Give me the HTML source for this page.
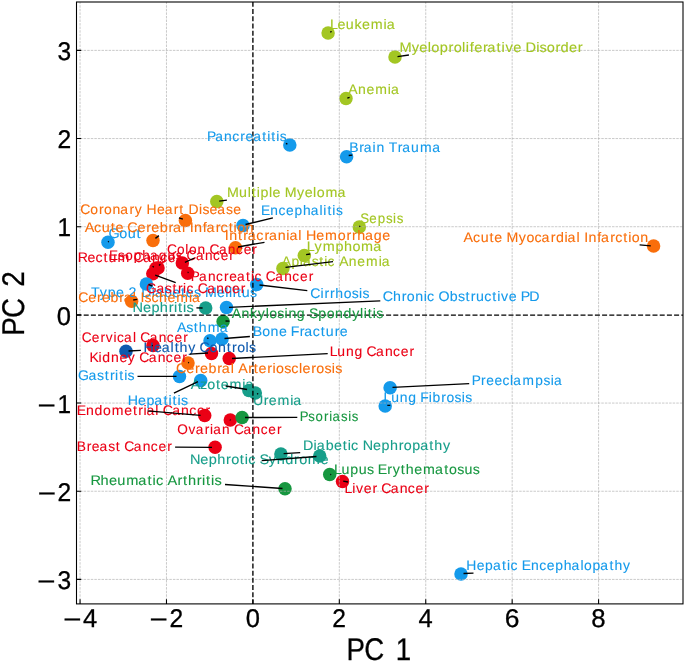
<!DOCTYPE html>
<html><head><meta charset="utf-8"><title>PCA scatter</title>
<style>
html,body{margin:0;padding:0;background:#fff;}
svg{display:block;will-change:transform;filter:blur(0.3px);}
text{font-family:"Liberation Sans",sans-serif;font-kerning:none;text-rendering:geometricPrecision;}
</style></head><body>
<svg width="685" height="662" viewBox="0 0 685 662">
<rect width="685" height="662" fill="#fff"/>

<g stroke="none">
<circle cx="328.1" cy="32.9" r="6.75" fill="#A3C623"/>
<circle cx="395.0" cy="57.0" r="6.75" fill="#A3C623"/>
<circle cx="346.0" cy="98.5" r="6.75" fill="#A3C623"/>
<circle cx="216.8" cy="201.5" r="6.75" fill="#A3C623"/>
<circle cx="359.3" cy="226.9" r="6.75" fill="#A3C623"/>
<circle cx="304.3" cy="255.5" r="6.75" fill="#A3C623"/>
<circle cx="282.9" cy="268.4" r="6.75" fill="#A3C623"/>
<circle cx="185.4" cy="220.4" r="6.75" fill="#F96E0B"/>
<circle cx="153.0" cy="240.4" r="6.75" fill="#F96E0B"/>
<circle cx="235.5" cy="247.8" r="6.75" fill="#F96E0B"/>
<circle cx="653.6" cy="246.0" r="6.75" fill="#F96E0B"/>
<circle cx="131.6" cy="301.3" r="6.75" fill="#F96E0B"/>
<circle cx="188.0" cy="362.9" r="6.75" fill="#F96E0B"/>
<circle cx="182.3" cy="263.0" r="6.75" fill="#EB0015"/>
<circle cx="158.0" cy="268.0" r="6.75" fill="#EB0015"/>
<circle cx="156.0" cy="268.3" r="6.75" fill="#EB0015"/>
<circle cx="187.7" cy="273.2" r="6.75" fill="#EB0015"/>
<circle cx="152.8" cy="273.8" r="6.75" fill="#EB0015"/>
<circle cx="153.0" cy="345.6" r="6.75" fill="#EB0015"/>
<circle cx="229.2" cy="358.6" r="6.75" fill="#EB0015"/>
<circle cx="204.7" cy="415.6" r="6.75" fill="#EB0015"/>
<circle cx="230.3" cy="420.1" r="6.75" fill="#EB0015"/>
<circle cx="215.1" cy="447.3" r="6.75" fill="#EB0015"/>
<circle cx="342.5" cy="481.6" r="6.75" fill="#EB0015"/>
<circle cx="289.8" cy="145.0" r="6.75" fill="#149AEB"/>
<circle cx="346.6" cy="156.7" r="6.75" fill="#149AEB"/>
<circle cx="243.0" cy="225.4" r="6.75" fill="#149AEB"/>
<circle cx="108.0" cy="242.2" r="6.75" fill="#149AEB"/>
<circle cx="146.4" cy="284.1" r="6.75" fill="#149AEB"/>
<circle cx="256.7" cy="284.6" r="6.75" fill="#149AEB"/>
<circle cx="226.5" cy="307.4" r="6.75" fill="#149AEB"/>
<circle cx="210.0" cy="340.8" r="6.75" fill="#149AEB"/>
<circle cx="222.0" cy="339.0" r="6.75" fill="#149AEB"/>
<circle cx="179.5" cy="376.4" r="6.75" fill="#149AEB"/>
<circle cx="200.7" cy="380.4" r="6.75" fill="#149AEB"/>
<circle cx="390.1" cy="387.7" r="6.75" fill="#149AEB"/>
<circle cx="385.2" cy="406.1" r="6.75" fill="#149AEB"/>
<circle cx="461.0" cy="573.9" r="6.75" fill="#149AEB"/>
<circle cx="211.5" cy="353.4" r="6.75" fill="#EB0015"/>
<circle cx="126.0" cy="351.2" r="6.75" fill="#0E5AAE"/>
<circle cx="205.7" cy="307.9" r="6.75" fill="#179E8A"/>
<circle cx="248.9" cy="390.4" r="6.75" fill="#179E8A"/>
<circle cx="255.3" cy="393.0" r="6.75" fill="#179E8A"/>
<circle cx="280.9" cy="454.0" r="6.75" fill="#179E8A"/>
<circle cx="319.7" cy="456.0" r="6.75" fill="#179E8A"/>
<circle cx="223.1" cy="321.6" r="6.75" fill="#179740"/>
<circle cx="242.1" cy="417.5" r="6.75" fill="#179740"/>
<circle cx="329.7" cy="474.6" r="6.75" fill="#179740"/>
<circle cx="285.0" cy="488.8" r="6.75" fill="#179740"/>
</g>
<path d="M80.06 603.90V2.00M166.48 603.90V2.00M339.32 603.90V2.00M425.74 603.90V2.00M512.16 603.90V2.00M598.58 603.90V2.00M76.50 579.41H683.00M76.50 491.24H683.00M76.50 403.07H683.00M76.50 226.73H683.00M76.50 138.56H683.00M76.50 50.39H683.00" stroke="#b0b0b0" stroke-width="0.67" stroke-dasharray="2.49 1.08" fill="none"/>
<path d="M252.90 603.9V2.0" stroke="#000" stroke-width="1.35" stroke-dasharray="5 2.2" stroke-dashoffset="0.53" fill="none"/>
<path d="M76.5 315.1H683.0" stroke="#000" stroke-width="1.35" stroke-dasharray="5 2.2" fill="none"/>
<g font-size="13.9" stroke-width="0.1">
<text transform="scale(1.0278,1)" x="320.96 328.38 336.50 344.95 352.31 360.79 373.20 376.20" y="28.8" fill="#A3C623" stroke="#A3C623">Leukemia</text>
<text transform="scale(1.0507,1)" x="380.16 391.78 399.14 407.15 410.53 418.58 426.98 431.75 439.76 443.32 447.12 451.25 459.58 463.85 472.67 477.39 481.02 488.38 496.16 500.15 510.33 513.59 520.36 528.69 533.53 541.63 549.96" y="51.9" fill="#A3C623" stroke="#A3C623">Myeloproliferative Disorder</text>
<text transform="scale(1.0094,1)" x="345.13 354.71 363.03 371.71 384.26 387.37" y="94.2" fill="#A3C623" stroke="#A3C623">Anemia</text>
<text transform="scale(0.9984,1)" x="207.29 215.52 224.45 232.62 240.68 245.80 253.55 262.72 267.66 271.74 276.68 280.22" y="140.8" fill="#149AEB" stroke="#149AEB">Pancreatitis</text>
<text transform="scale(1.0056,1)" x="347.24 357.18 361.71 370.50 374.30 382.37 386.47 395.49 400.02 408.83 417.73 429.73" y="152.0" fill="#149AEB" stroke="#149AEB">Brain Trauma</text>
<text transform="scale(1.0247,1)" x="221.63 233.35 241.68 245.66 250.48 254.22 262.45 266.02 273.90 277.95 289.80 297.36 305.52 309.04 317.56 329.36" y="197.1" fill="#A3C623" stroke="#A3C623">Multiple Myeloma</text>
<text transform="scale(0.9901,1)" x="263.51 272.94 281.19 288.89 297.45 305.98 313.94 322.81 326.59 330.71 335.69 339.28" y="214.6" fill="#149AEB" stroke="#149AEB">Encephalitis</text>
<text transform="scale(1.0040,1)" x="79.88 89.89 98.55 103.59 111.96 119.78 128.96 134.25 141.69 145.96 156.30 164.00 173.18 178.64 183.23 187.66 198.13 201.64 208.79 216.49 225.07 232.22" y="213.5" fill="#F96E0B" stroke="#F96E0B">Coronary Heart Disease</text>
<text transform="scale(1.0388,1)" x="104.40 114.92 122.96 131.52" y="237.6" fill="#149AEB" stroke="#149AEB">Gout</text>
<text transform="scale(1.0370,1)" x="81.69 90.70 98.11 106.69 111.35 119.18 122.73 132.51 140.93 145.82 153.98 162.48 166.83 175.42 178.76 182.87 186.99 195.45 199.11 208.04 212.71 220.49 225.26 228.70 236.81" y="231.6" fill="#F96E0B" stroke="#F96E0B">Acute Cerebral Infarction</text>
<text transform="scale(1.0266,1)" x="219.03 223.21 231.80 236.96 241.37 249.72 257.58 261.99 270.68 278.95 281.96 290.61 293.98 298.05 308.18 316.68 328.96 337.46 342.85 347.90 355.56 364.15 372.44" y="239.8" fill="#F96E0B" stroke="#F96E0B">Intracranial Hemorrhage</text>
<text transform="scale(0.9599,1)" x="375.32 384.80 393.62 402.11 409.55 413.30" y="222.6" fill="#A3C623" stroke="#A3C623">Sepsis</text>
<text transform="scale(1.0364,1)" x="295.89 303.47 311.35 323.76 331.92 340.00 348.39 360.09" y="250.8" fill="#A3C623" stroke="#A3C623">Lymphoma</text>
<text transform="scale(0.9993,1)" x="281.97 291.71 300.08 303.25 311.87 319.43 324.37 327.84 335.17 339.42 349.09 357.49 366.27 378.91 382.08" y="266.0" fill="#A3C623" stroke="#A3C623">Aplastic Anemia</text>
<text transform="scale(0.9867,1)" x="169.28 179.44 187.82 191.57 200.08 208.24 212.23 221.89 230.93 239.19 246.93 255.72" y="253.5" fill="#EB0015" stroke="#EB0015">Colon Cancer</text>
<text transform="scale(0.9765,1)" x="111.69 120.92 128.24 136.92 145.57 153.64 162.65 171.44 179.91 186.88 190.97 200.72 209.85 218.20 226.02 234.89" y="259.8" fill="#EB0015" stroke="#EB0015">Esophagus Cancer</text>
<text transform="scale(1.0152,1)" x="76.51 86.15 94.08 101.98 106.85 115.64 127.85 131.59 141.00 149.79 157.83 165.34 173.92" y="261.9" fill="#EB0015" stroke="#EB0015">Rectum Cancer</text>
<text transform="scale(0.9840,1)" x="193.88 202.23 211.28 219.57 227.73 232.95 240.81 250.08 255.09 258.65 266.04 270.06 279.74 288.80 297.09 304.85 313.66" y="281.0" fill="#EB0015" stroke="#EB0015">Pancreatic Cancer</text>
<text transform="scale(1.0227,1)" x="88.86 97.54 105.30 113.46 121.35 125.67 133.89 138.14 148.49 151.52 160.30 168.47 176.97 181.72 189.65 196.45 200.52 212.19 220.35 224.01 227.67 231.65 236.46 244.57" y="296.6" fill="#149AEB" stroke="#149AEB">Type 2 Diabetes Mellitus</text>
<text transform="scale(0.9892,1)" x="147.66 158.14 166.83 174.46 179.84 185.03 188.56 195.93 199.91 209.54 218.55 226.80 234.52 243.29" y="293.2" fill="#EB0015" stroke="#EB0015">Gastric Cancer</text>
<text transform="scale(1.0093,1)" x="77.44 87.45 96.07 101.13 109.51 118.21 122.72 131.48 134.87 139.14 143.13 150.01 157.67 166.01 174.69 187.25 190.35" y="302.1" fill="#F96E0B" stroke="#F96E0B">Cerebral Ischemia</text>
<text transform="scale(1.0473,1)" x="126.56 136.49 144.57 152.64 161.13 166.10 169.97 174.70 177.99" y="312.0" fill="#179E8A" stroke="#179E8A">Nephritis</text>
<text transform="scale(1.0082,1)" x="307.79 317.86 321.94 327.43 332.59 340.90 348.93 356.11 359.59" y="298.1" fill="#149AEB" stroke="#149AEB">Cirrhosis</text>
<text transform="scale(1.0222,1)" x="374.38 384.38 393.05 397.98 406.20 414.50 417.85 425.10 429.06 440.03 448.04 455.46 460.65 465.69 473.74 481.60 486.44 490.22 497.80 505.69 509.42 517.87" y="300.7" fill="#149AEB" stroke="#149AEB">Chronic Obstructive PD</text>
<text transform="scale(1.0177,1)" x="227.71 237.22 245.70 253.34 261.02 264.58 272.54 279.67 283.39 291.67 299.81 303.64 312.81 320.97 329.22 337.50 346.07 353.75 357.43 361.43 366.28 369.72" y="317.5" fill="#179740" stroke="#179740">Ankylosing Spondylitis</text>
<text transform="scale(1.0177,1)" x="173.83 183.05 190.50 195.39 204.12 216.00" y="331.7" fill="#149AEB" stroke="#149AEB">Asthma</text>
<text transform="scale(1.0221,1)" x="453.60 462.72 470.25 478.93 483.68 491.57 495.64 507.52 515.05 522.93 529.85 538.88 543.88 552.29 555.33 564.01 567.38 571.57 575.78 584.34 588.08 597.12 601.87 609.74 614.57 618.10 626.32" y="241.7" fill="#F96E0B" stroke="#F96E0B">Acute Myocardial Infarction</text>
<text transform="scale(1.0187,1)" x="248.02 257.39 265.63 273.88 281.78 285.50 294.22 298.68 307.09 314.97 319.82 328.55 333.55" y="336.1" fill="#149AEB" stroke="#149AEB">Bone Fracture</text>
<text transform="scale(1.0225,1)" x="140.41 150.59 158.14 166.82 170.80 175.66 184.10 191.47 195.15 205.00 213.21 221.83 227.02 231.94 240.11 243.53" y="352.0" fill="#0E5AAE" stroke="#0E5AAE">Healthy Controls</text>
<text transform="scale(0.9847,1)" x="82.97 93.19 102.00 107.42 115.29 118.85 126.05 134.96 138.40 142.42 152.09 161.14 169.43 177.18 185.99" y="342.0" fill="#EB0015" stroke="#EB0015">Cervical Cancer</text>
<text transform="scale(1.0044,1)" x="89.16 98.20 101.90 110.51 118.87 127.31 134.75 138.59 148.09 156.97 165.10 172.69 181.35" y="361.6" fill="#EB0015" stroke="#EB0015">Kidney Cancer</text>
<text transform="scale(1.0031,1)" x="328.67 336.34 344.90 353.29 361.49 365.34 374.86 383.75 391.89 399.49 408.16" y="355.9" fill="#EB0015" stroke="#EB0015">Lung Cancer</text>
<text transform="scale(1.0138,1)" x="77.00 87.25 95.75 103.22 108.46 113.55 117.56 122.44 125.89" y="379.5" fill="#149AEB" stroke="#149AEB">Gastritis</text>
<text transform="scale(1.0236,1)" x="124.74 134.91 143.17 150.79 159.79 164.62 168.59 173.42 176.83" y="404.6" fill="#149AEB" stroke="#149AEB">Hepatitis</text>
<text transform="scale(1.0314,1)" x="184.86 193.97 200.93 209.38 214.07 222.52 234.90 237.88" y="388.6" fill="#179E8A" stroke="#179E8A">Azotemia</text>
<text transform="scale(1.0222,1)" x="247.53 258.01 262.98 271.53 283.98 287.01" y="405.0" fill="#179E8A" stroke="#179E8A">Uremia</text>
<text transform="scale(1.0289,1)" x="171.16 181.00 189.48 194.41 202.64 211.19 215.59 224.23 227.59 231.57 241.30 246.65 251.37 259.85 264.88 268.37 276.25 283.00 290.50 294.04 302.52 307.41 315.30 322.36 325.74" y="373.2" fill="#F96E0B" stroke="#F96E0B">Cerebral Arteriosclerosis</text>
<text transform="scale(0.9882,1)" x="477.50 486.77 491.95 500.33 508.46 516.18 519.42 528.84 541.76 550.02 557.30 560.53" y="384.6" fill="#149AEB" stroke="#149AEB">Preeclampsia</text>
<text transform="scale(1.0015,1)" x="382.86 390.55 399.12 407.52 415.73 419.60 428.06 431.94 440.69 445.75 453.84 461.05 464.57" y="401.9" fill="#149AEB" stroke="#149AEB">Lung Fibrosis</text>
<text transform="scale(1.0119,1)" x="75.75 85.00 93.32 101.69 110.34 122.82 131.39 136.63 141.73 144.82 153.56 156.96 160.73 170.17 178.98 187.05 194.59 203.19" y="415.4" fill="#EB0015" stroke="#EB0015">Endometrial Cancer</text>
<text transform="scale(0.9810,1)" x="180.72 192.10 199.46 208.82 214.04 217.31 226.39 234.57 238.62 248.33 257.42 265.73 273.51 282.35" y="433.8" fill="#EB0015" stroke="#EB0015">Ovarian Cancer</text>
<text transform="scale(0.9965,1)" x="76.99 87.01 92.14 99.90 108.54 116.12 120.73 124.64 134.21 143.16 151.35 159.01 167.72" y="450.6" fill="#EB0015" stroke="#EB0015">Breast Cancer</text>
<text transform="scale(0.9487,1)" x="316.01 324.98 332.53 341.63 346.99 350.46 359.50 367.00 370.82" y="421.0" fill="#179740" stroke="#179740">Psoriasis</text>
<text transform="scale(1.0297,1)" x="294.27 304.58 307.58 316.30 324.41 332.86 337.67 340.98 348.20 352.21 362.30 370.52 378.73 387.35 392.23 400.45 408.02 416.98 421.79 430.18" y="449.9" fill="#179E8A" stroke="#179E8A">Diabetic Nephropathy</text>
<text transform="scale(1.0449,1)" x="181.76 191.71 199.81 207.90 216.41 221.21 229.57 234.31 237.54 244.71 248.32 257.30 264.83 272.89 281.49 286.29 294.60 306.74" y="463.8" fill="#179E8A" stroke="#179E8A">Nephrotic Syndrome</text>
<text transform="scale(1.0235,1)" x="326.25 333.77 342.22 350.44 358.54 365.35 368.99 378.47 383.64 391.62 396.47 404.69 413.22 425.04 434.04 438.74 446.66 453.73 461.83" y="473.8" fill="#179740" stroke="#179740">Lupus Erythematosus</text>
<text transform="scale(1.0125,1)" x="340.23 347.83 351.67 359.32 367.92 372.71 376.47 385.91 394.72 402.79 410.32 418.92" y="492.6" fill="#EB0015" stroke="#EB0015">Liver Cancer</text>
<text transform="scale(1.0490,1)" x="86.39 95.88 103.90 111.86 120.30 131.87 140.70 145.43 148.64 155.80 159.62 169.20 174.46 179.15 187.63 192.58 196.45 201.17 204.45" y="485.0" fill="#179740" stroke="#179740">Rheumatic Arthritis</text>
<text transform="scale(1.0025,1)" x="465.08 475.44 483.88 491.66 500.80 505.73 509.18 516.50 520.33 529.66 537.81 545.41 553.86 562.29 570.14 578.94 582.59 591.04 598.82 607.96 612.95 621.55" y="570.0" fill="#149AEB" stroke="#149AEB">Hepatic Encephalopathy</text>
</g>
<path d="M330.2 32.2L331.7 31.5M397.5 56.6L408.9 55.0M347.3 98.1L349.6 97.4M287.4 144.2L285.9 143.4M348.7 155.5L352.3 155.1M219.2 201.2L226.9 200.1M245.5 224.5L272.9 217.9M182.9 219.2L178.9 217.8M155.4 238.4L158.9 235.6M108.0 242.0L108.9 241.4M238.0 247.0L264.5 242.3M359.3 226.6L360.3 226.1M306.1 254.6L310.2 254.0M285.5 267.3L333.0 261.6M184.9 262.3L194.5 258.0M187.6 272.5L188.6 272.3M159.0 265.5L160.3 264.3M153.8 267.2L152.6 266.2M155.2 275.1L175.7 282.7M148.5 284.5L152.5 286.1M133.2 300.0L137.2 299.4M196.4 307.9L202.6 308.0M259.5 285.0L307.3 290.6M229.0 307.3L380.3 300.8M225.5 321.0L229.4 321.2M207.3 337.8L208.4 338.6M224.5 338.5L249.9 336.5M128.5 351.0L140.9 350.4M152.0 345.4L152.8 345.9M208.0 353.0L189.7 354.2M232.0 358.5L327.7 353.7M188.1 362.3L189.0 362.8M137.5 376.4L176.5 376.4M173.9 393.2L198.0 381.6M225.7 386.0L247.1 389.5M257.0 393.5L258.2 394.1M392.5 387.3L469.2 383.6M387.3 405.4L390.3 405.4M639.6 244.9L650.8 245.8M147.5 410.9L200.6 415.4M229.8 419.8L230.6 420.3M245.0 417.5L297.3 417.3M175.1 447.1L212.0 447.3M283.6 453.6L300.2 452.6M261.7 460.7L316.5 456.5M330.3 474.3L331.2 474.7M343.2 481.1L348.0 482.0M225.0 484.5L282.5 488.5M463.5 573.5L473.5 573.2" stroke="#000" stroke-width="1.35" fill="none" stroke-linecap="butt"/>
<path d="M80.06 603.9v-4.7M166.48 603.9v-4.7M252.90 603.9v-4.7M339.32 603.9v-4.7M425.74 603.9v-4.7M512.16 603.9v-4.7M598.58 603.9v-4.7M76.5 579.41h4.7M76.5 491.24h4.7M76.5 403.07h4.7M76.5 314.90h4.7M76.5 226.73h4.7M76.5 138.56h4.7M76.5 50.39h4.7" stroke="#000" stroke-width="1.08" fill="none"/>
<rect x="76.5" y="2.0" width="606.50" height="601.90" fill="none" stroke="#000" stroke-width="1.08"/>
<g font-size="25.70" fill="#000" stroke="#000" stroke-width="0.3">
<text x="63.21" y="627.90" textLength="18.25" lengthAdjust="spacingAndGlyphs">−</text>
<text x="83.10" y="627.00" textLength="14.22" lengthAdjust="spacingAndGlyphs">4</text>
<text x="149.63" y="627.90" textLength="18.25" lengthAdjust="spacingAndGlyphs">−</text>
<text x="169.46" y="627.00" textLength="13.70" lengthAdjust="spacingAndGlyphs">2</text>
<text x="245.79" y="627.00" textLength="14.22" lengthAdjust="spacingAndGlyphs">0</text>
<text x="332.14" y="627.00" textLength="13.70" lengthAdjust="spacingAndGlyphs">2</text>
<text x="418.62" y="627.00" textLength="14.22" lengthAdjust="spacingAndGlyphs">4</text>
<text x="504.80" y="627.00" textLength="14.71" lengthAdjust="spacingAndGlyphs">6</text>
<text x="591.39" y="627.00" textLength="14.37" lengthAdjust="spacingAndGlyphs">8</text>
<text x="37.22" y="590.01" textLength="18.25" lengthAdjust="spacingAndGlyphs">−</text>
<text x="57.43" y="589.11" textLength="13.65" lengthAdjust="spacingAndGlyphs">3</text>
<text x="37.71" y="501.84" textLength="18.25" lengthAdjust="spacingAndGlyphs">−</text>
<text x="57.54" y="500.94" textLength="13.70" lengthAdjust="spacingAndGlyphs">2</text>
<text x="37.52" y="413.67" textLength="18.25" lengthAdjust="spacingAndGlyphs">−</text>
<text x="57.61" y="412.77" textLength="13.58" lengthAdjust="spacingAndGlyphs">1</text>
<text x="56.78" y="324.60" textLength="14.22" lengthAdjust="spacingAndGlyphs">0</text>
<text x="57.61" y="236.43" textLength="13.58" lengthAdjust="spacingAndGlyphs">1</text>
<text x="57.54" y="148.26" textLength="13.70" lengthAdjust="spacingAndGlyphs">2</text>
<text x="57.43" y="60.09" textLength="13.65" lengthAdjust="spacingAndGlyphs">3</text>
</g>
<text transform="scale(0.8823,1)" x="392.64 412.82 436.03 448.51" y="659.7" font-size="31.36" fill="#000" stroke="#000" stroke-width="0.3">PC 1</text>
<g transform="translate(23.6 333.4) rotate(-90)"><text transform="scale(0.8858,1)" x="-2.65 17.45 40.61 52.69" y="0" font-size="31.36" fill="#000" stroke="#000" stroke-width="0.3">PC 2</text></g>
</svg>
</body></html>
